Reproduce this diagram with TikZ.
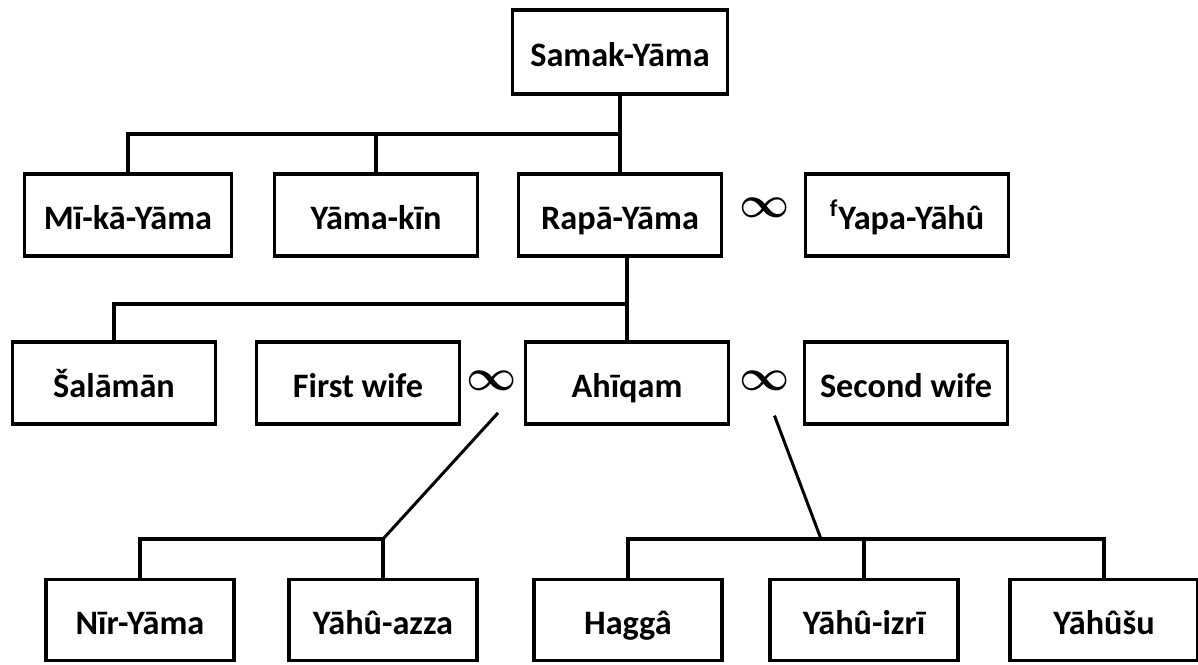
\documentclass[tikz,border=0pt]{standalone}
\usepackage{amsmath}
\usepackage{amssymb}
\usepackage{fontspec}
\setmainfont{Carlito}
\tikzset{personbox/.style={
			  rectangle,
			  minimum width   = 40.6mm,
			  minimum height  = 16.4mm,
			  inner sep       = 0pt,
			  line width      = 2.1pt,
			  draw            = black,
			  fill            = white,
			  font            = \bfseries\fontsize{19.5}{22}\selectfont,
			  text height     = 17pt,
			  text depth      = 0pt,
			  text centered
			}}
\tikzset{childbox/.style={
			  personbox,
			  minimum width   = 37.6mm,
			  minimum height  = 16.2mm
			}}
\tikzset{marriage/.style={
			  inner sep       = 0pt,
			  font            = \fontsize{27}{27}\selectfont
			}}
\tikzset{family/.style={
			  line width      = 2pt,
			  line cap        = rect
			}}

\begin{document}
\begin{tikzpicture}[x=0.02cm, y=-0.02cm]
    \useasboundingbox (0,0) rectangle (1198,664);

    \node (samak)      [personbox, minimum width=43mm, minimum height=16.8mm] at (620,52) {Samak-Yāma};
    \node (mika)       [personbox, minimum width=41.4mm] at (128,215)    {Mī-kā-Yāma};
    \node (yamakin)    [personbox] at (376,215)    {Yāma-kīn};
    \node (rapa)       [personbox] at (620,215)    {Rapā-Yāma};
    \node (yapa)       [personbox] at (907,215)    {\textsuperscript{f}Yapa-Yāhû};
    \node (salaman)    [personbox] at (114,383)    {Šalāmān};
    \node (firstwife)  [personbox] at (358,383)    {First wife};
    \node (ahiqam)     [personbox] at (627,383)    {Ahīqam};
    \node (secondwife) [personbox] at (906,383)    {Second wife};
    \node (nir)        [childbox]  at (140,620)    {Nīr-Yāma};
    \node (azza)       [childbox]  at (383,620)    {Yāhû-azza};
    \node (hagga)      [childbox]  at (628,620)    {Haggâ};
    \node (izri)       [childbox]  at (864,620)    {Yāhû-izrī};
    \node (yahusu)     [childbox]  at (1104,620)   {Yāhûšu};

    \node (m1) [marriage] at (765,208) {$\boldsymbol{\infty}$};
    \node (m2) [marriage] at (492,381) {$\boldsymbol{\infty}$};
    \node (m3) [marriage] at (765,381) {$\boldsymbol{\infty}$};

    \coordinate (bus1) at (0,134);
    \coordinate (bus2) at (0,304);
    \coordinate (bus3) at (0,539);
    \coordinate (d1)   at (497,414);
    \coordinate (d2)   at (775,417);

    \draw [family] (samak)          to (rapa);
    \draw [family] (mika.north)     |- (bus1 -| rapa);
    \draw [family] (yamakin.north)  to (yamakin.north |- bus1);
    \draw [family] (rapa.south -| ahiqam) to (ahiqam.north);
    \draw [family] (salaman.north)  |- (bus2 -| ahiqam);
    \draw [family] (nir.north)      |- (bus3 -| azza) -- (azza.north);
    \draw [family] (hagga.north)    |- (bus3 -| yahusu) -- (yahusu.north);
    \draw [family] (izri.north)     to (izri.north |- bus3);
%
    \draw [family, line width=1.7pt] (d1) to (bus3 -| azza);
    \draw [family, line width=1.7pt] (d2) to (bus3 -| 821,0);

\end{tikzpicture}
\end{document}
